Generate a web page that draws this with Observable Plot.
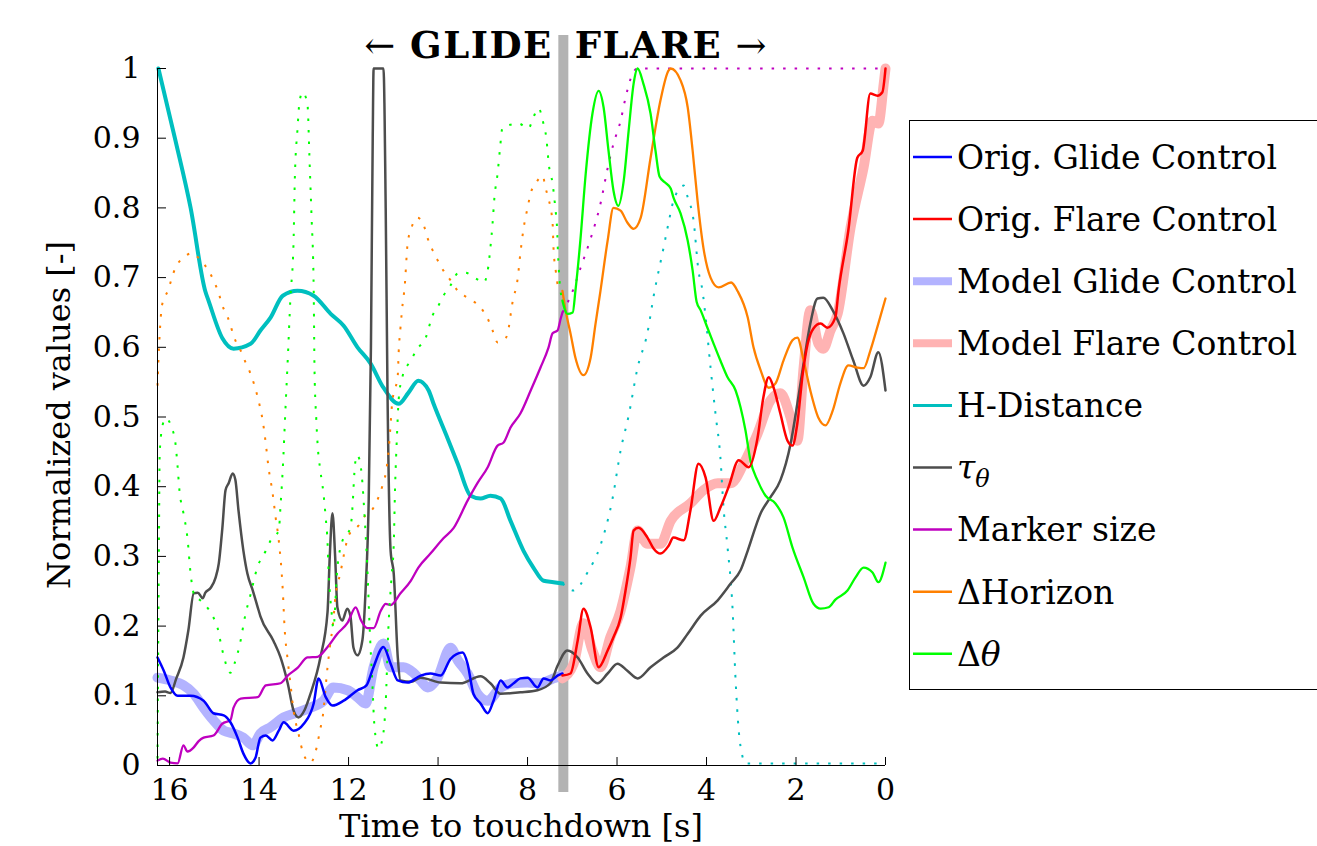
<!DOCTYPE html>
<html><head><meta charset="utf-8">
<script src="https://cdn.jsdelivr.net/npm/d3@7"></script>
<script src="https://cdn.jsdelivr.net/npm/@observablehq/plot@0.6"></script>
<style>body{margin:0;background:#fff} #chart{width:1317px;height:846px;overflow:hidden}</style>
</head><body><div id="chart"></div>
<script>
const boundary = 7.2;
const xDomain = [16.27, 0];
const xTicks = [16, 14, 12, 10, 8, 6, 4, 2, 0];
const yTicks = [0, 0.1, 0.2, 0.3, 0.4, 0.5, 0.6, 0.7, 0.8, 0.9, 1];
const titleLeft = "GLIDE";
const titleRight = "FLARE";
const xLabel = "Time to touchdown [s]";
const yLabel = "Normalized values [-]";

const origGlide = [[16.27,0.155],[16.13,0.136],[15.98,0.112],[15.82,0.1],[15.53,0.1],[15.24,0.093],[15.02,0.075],[14.79,0.072],[14.64,0.062],[14.48,0.04],[14.35,0.017],[14.19,0.003],[14.08,0.011],[13.97,0.04],[13.85,0.043],[13.7,0.036],[13.56,0.05],[13.45,0.062],[13.23,0.05],[13.0,0.06],[12.78,0.089],[12.67,0.125],[12.51,0.098],[12.36,0.086],[12.11,0.093],[11.8,0.108],[11.6,0.115],[11.45,0.14],[11.22,0.17],[11.06,0.146],[10.9,0.122],[10.68,0.119],[10.39,0.129],[10.17,0.132],[9.94,0.129],[9.72,0.153],[9.45,0.162],[9.34,0.146],[9.21,0.103],[9.05,0.089],[8.89,0.075],[8.76,0.093],[8.6,0.122],[8.45,0.112],[8.31,0.118],[8.16,0.125],[8.0,0.126],[7.78,0.112],[7.64,0.125],[7.49,0.122],[7.33,0.129],[7.22,0.132]];

const origFlare = [[7.22,0.129],[7.04,0.132],[6.88,0.179],[6.75,0.225],[6.59,0.198],[6.41,0.141],[6.21,0.165],[6.08,0.184],[5.92,0.212],[5.81,0.251],[5.7,0.298],[5.63,0.337],[5.52,0.341],[5.32,0.327],[5.18,0.311],[5.03,0.304],[4.85,0.315],[4.74,0.327],[4.51,0.323],[4.36,0.366],[4.18,0.433],[4.02,0.413],[3.84,0.351],[3.69,0.37],[3.51,0.399],[3.28,0.438],[3.06,0.428],[2.86,0.47],[2.73,0.528],[2.61,0.557],[2.5,0.542],[2.35,0.505],[2.19,0.466],[2.08,0.459],[1.97,0.491],[1.85,0.562],[1.74,0.605],[1.61,0.627],[1.45,0.634],[1.3,0.628],[1.12,0.643],[1.05,0.681],[0.83,0.768],[0.63,0.872],[0.51,0.882],[0.34,0.964],[0.18,0.961],[0.07,0.966],[0.0,1.0]];

const modelGlide = [[16.27,0.126],[15.98,0.122],[15.69,0.115],[15.46,0.103],[15.24,0.083],[15.02,0.065],[14.79,0.05],[14.57,0.046],[14.35,0.04],[14.14,0.029],[13.97,0.046],[13.74,0.055],[13.45,0.069],[13.14,0.076],[12.85,0.083],[12.56,0.093],[12.34,0.112],[12.02,0.108],[11.8,0.098],[11.62,0.089],[11.44,0.141],[11.22,0.175],[11.06,0.141],[10.77,0.141],[10.55,0.133],[10.39,0.122],[10.23,0.112],[10.01,0.126],[9.72,0.169],[9.56,0.151],[9.34,0.132],[9.12,0.103],[8.89,0.093],[8.6,0.112],[8.31,0.118],[8.0,0.119],[7.71,0.118],[7.42,0.125],[7.22,0.129]];

const modelFlare = [[7.22,0.125],[6.97,0.146],[6.75,0.204],[6.55,0.165],[6.37,0.141],[6.15,0.184],[5.92,0.222],[5.7,0.284],[5.54,0.337],[5.32,0.318],[5.03,0.318],[4.8,0.351],[4.36,0.376],[4.07,0.395],[3.75,0.405],[3.46,0.405],[3.17,0.433],[2.86,0.476],[2.57,0.524],[2.35,0.534],[2.12,0.499],[1.97,0.466],[1.83,0.571],[1.68,0.653],[1.5,0.605],[1.39,0.598],[1.23,0.624],[1.07,0.648],[0.78,0.772],[0.49,0.858],[0.29,0.925],[0.16,0.921],[0.04,0.978],[0.0,1.0]];

const hDistGlide = [[16.25,1.0],[15.87,0.897],[15.53,0.8],[15.2,0.68],[15.13,0.667],[14.82,0.613],[14.57,0.598],[14.19,0.605],[13.97,0.624],[13.74,0.643],[13.47,0.674],[13.14,0.681],[12.78,0.674],[12.4,0.648],[12.11,0.631],[11.8,0.6],[11.51,0.577],[11.22,0.542],[10.88,0.519],[10.66,0.535],[10.44,0.552],[10.21,0.538],[10.1,0.519],[9.79,0.47],[9.56,0.433],[9.27,0.387],[9.05,0.383],[8.83,0.387],[8.6,0.383],[8.38,0.351],[8.09,0.308],[7.87,0.284],[7.64,0.265],[7.42,0.263],[7.22,0.261]];
const hDistFlare = [[7.22,0.261],[6.97,0.251],[6.66,0.277],[6.37,0.316],[6.1,0.383],[5.92,0.452],[5.74,0.502],[5.54,0.571],[5.32,0.621],[5.18,0.674],[4.96,0.743],[4.85,0.778],[4.74,0.81],[4.51,0.832],[4.42,0.815],[4.29,0.782],[4.18,0.71],[4.09,0.681],[4.02,0.643],[3.91,0.571],[3.8,0.505],[3.69,0.442],[3.62,0.37],[3.53,0.313],[3.42,0.227],[3.35,0.122],[3.28,0.05],[3.2,0.014],[3.13,0.003],[0.0,0.003]];

const tauTheta = [[16.27,0.105],[16.1,0.106],[15.98,0.104],[15.85,0.125],[15.69,0.155],[15.58,0.194],[15.46,0.247],[15.37,0.248],[15.26,0.24],[15.2,0.248],[15.08,0.255],[14.97,0.27],[14.9,0.29],[14.82,0.341],[14.75,0.395],[14.68,0.405],[14.59,0.419],[14.53,0.41],[14.46,0.366],[14.35,0.308],[14.26,0.275],[14.14,0.251],[14.03,0.227],[13.97,0.214],[13.68,0.179],[13.52,0.155],[13.36,0.118],[13.23,0.079],[13.12,0.069],[12.98,0.08],[12.85,0.103],[12.63,0.155],[12.47,0.22],[12.42,0.3],[12.36,0.362],[12.3,0.3],[12.25,0.227],[12.14,0.208],[12.03,0.225],[11.96,0.215],[11.89,0.169],[11.8,0.158],[11.69,0.18],[11.62,0.251],[11.55,0.38],[11.5,0.6],[11.46,0.9],[11.44,1.0],[11.22,1.0],[11.17,0.8],[11.13,0.538],[11.06,0.308],[10.99,0.275],[10.9,0.155],[10.84,0.122],[10.6,0.12],[10.39,0.126],[9.94,0.119],[9.5,0.118],[9.05,0.128],[8.83,0.118],[8.6,0.103],[8.16,0.105],[7.78,0.108],[7.49,0.118],[7.33,0.143],[7.11,0.165],[6.88,0.155],[6.66,0.132],[6.44,0.118],[6.21,0.132],[5.99,0.146],[5.77,0.136],[5.54,0.125],[5.25,0.141],[4.96,0.155],[4.65,0.169],[4.42,0.189],[4.13,0.215],[3.75,0.237],[3.46,0.261],[3.24,0.28],[3.08,0.308],[2.79,0.362],[2.57,0.385],[2.35,0.409],[2.12,0.462],[1.97,0.519],[1.83,0.577],[1.68,0.634],[1.52,0.67],[1.39,0.671],[1.18,0.653],[0.94,0.62],[0.72,0.581],[0.49,0.545],[0.34,0.557],[0.16,0.593],[0.0,0.538]];

const markerGlide = [[16.27,0.007],[16.15,0.01],[15.98,0.004],[15.82,0.003],[15.69,0.029],[15.6,0.02],[15.46,0.026],[15.35,0.035],[15.24,0.04],[15.02,0.043],[14.82,0.06],[14.64,0.065],[14.57,0.083],[14.41,0.096],[14.03,0.098],[13.85,0.115],[13.52,0.118],[13.36,0.129],[13.14,0.14],[12.92,0.155],[12.69,0.156],[12.47,0.17],[12.25,0.189],[12.02,0.205],[11.84,0.227],[11.72,0.208],[11.58,0.197],[11.44,0.197],[11.28,0.222],[11.17,0.232],[11.06,0.23],[10.84,0.247],[10.61,0.265],[10.44,0.284],[10.17,0.304],[9.88,0.326],[9.65,0.341],[9.34,0.38],[9.12,0.405],[8.89,0.428],[8.67,0.459],[8.54,0.463],[8.38,0.485],[8.16,0.505],[7.93,0.538],[7.71,0.571],[7.53,0.6],[7.44,0.62],[7.33,0.624],[7.26,0.641],[7.22,0.65]];
const markerFlare = [[7.22,0.65],[6.99,0.681],[6.82,0.713],[6.59,0.756],[6.37,0.806],[6.21,0.857],[6.08,0.892],[5.92,0.925],[5.81,0.958],[5.65,0.993],[5.54,1.0],[0.0,1.0]];

const horizonGlide = [[16.27,0.545],[16.25,0.58],[16.22,0.62],[16.17,0.66],[16.04,0.681],[15.87,0.714],[15.69,0.729],[15.49,0.735],[15.31,0.725],[15.13,0.71],[14.9,0.677],[14.82,0.66],[14.7,0.643],[14.53,0.61],[14.41,0.595],[14.3,0.578],[14.19,0.562],[14.03,0.528],[13.92,0.495],[13.85,0.462],[13.79,0.428],[13.7,0.392],[13.63,0.356],[13.56,0.323],[13.47,0.251],[13.43,0.198],[13.36,0.151],[13.3,0.118],[13.23,0.079],[13.12,0.046],[13.0,0.015],[12.85,0.004],[12.74,0.019],[12.63,0.053],[12.58,0.069],[12.47,0.141],[12.4,0.179],[12.36,0.196],[12.29,0.244],[12.18,0.277],[12.07,0.313],[12.0,0.33],[11.78,0.344],[11.62,0.359],[11.44,0.37],[11.33,0.385],[11.24,0.402],[11.17,0.419],[11.1,0.455],[11.06,0.49],[11.02,0.524],[10.95,0.542],[10.9,0.56],[10.88,0.593],[10.84,0.628],[10.79,0.663],[10.75,0.684],[10.68,0.749],[10.61,0.768],[10.46,0.786],[10.32,0.775],[10.23,0.756],[10.12,0.739],[10.01,0.725],[9.88,0.71],[9.72,0.696],[9.56,0.681],[9.34,0.671],[9.05,0.657],[8.89,0.641],[8.78,0.624],[8.67,0.607],[8.49,0.613],[8.42,0.628],[8.38,0.646],[8.34,0.663],[8.22,0.699],[8.16,0.735],[8.09,0.77],[8.0,0.8],[7.93,0.821],[7.82,0.835],[7.66,0.846],[7.6,0.829],[7.53,0.813],[7.44,0.778],[7.42,0.743],[7.37,0.71],[7.31,0.686],[7.22,0.681]];
const horizonFlare = [[7.22,0.681],[7.15,0.653],[7.04,0.62],[6.93,0.585],[6.75,0.56],[6.59,0.585],[6.48,0.634],[6.37,0.681],[6.21,0.753],[6.08,0.8],[5.92,0.796],[5.77,0.779],[5.63,0.77],[5.47,0.786],[5.25,0.872],[5.03,0.954],[4.85,0.997],[4.8,1.0],[4.58,0.983],[4.42,0.944],[4.31,0.882],[4.2,0.81],[4.07,0.743],[3.91,0.7],[3.73,0.686],[3.45,0.693],[3.3,0.68],[3.08,0.643],[2.95,0.6],[2.79,0.567],[2.61,0.542],[2.46,0.548],[2.28,0.581],[2.08,0.61],[1.97,0.614],[1.83,0.581],[1.68,0.538],[1.5,0.499],[1.34,0.488],[1.18,0.509],[1.01,0.548],[0.83,0.574],[0.63,0.571],[0.49,0.57],[0.34,0.595],[0.16,0.634],[0.0,0.67]];

const thetaGlide = [[16.27,0.01],[16.24,0.3],[16.22,0.45],[16.15,0.49],[16.09,0.498],[15.93,0.481],[15.87,0.463],[15.82,0.428],[15.78,0.395],[15.69,0.362],[15.6,0.326],[15.53,0.275],[15.42,0.24],[15.31,0.237],[15.2,0.23],[15.04,0.215],[14.93,0.198],[14.82,0.165],[14.64,0.133],[14.55,0.146],[14.41,0.18],[14.32,0.212],[14.18,0.248],[14.05,0.282],[13.85,0.308],[13.74,0.323],[13.56,0.337],[13.52,0.373],[13.47,0.426],[13.41,0.512],[13.36,0.581],[13.3,0.67],[13.23,0.75],[13.2,0.844],[13.14,0.914],[13.1,0.95],[13.03,0.966],[12.92,0.95],[12.87,0.864],[12.83,0.792],[12.78,0.686],[12.76,0.564],[12.72,0.495],[12.69,0.459],[12.63,0.423],[12.56,0.39],[12.51,0.355],[12.47,0.32],[12.45,0.284],[12.42,0.251],[12.38,0.22],[12.34,0.197],[12.25,0.284],[12.11,0.327],[11.96,0.34],[11.91,0.373],[11.87,0.42],[11.82,0.445],[11.76,0.44],[11.69,0.405],[11.64,0.355],[11.58,0.283],[11.53,0.2],[11.47,0.12],[11.42,0.055],[11.33,0.024],[11.24,0.039],[11.17,0.09],[11.11,0.197],[11.04,0.27],[10.99,0.318],[10.96,0.4],[10.92,0.47],[10.88,0.525],[10.8,0.557],[10.61,0.581],[10.46,0.598],[10.28,0.613],[10.12,0.646],[9.99,0.66],[9.88,0.674],[9.72,0.689],[9.56,0.706],[9.39,0.707],[9.16,0.699],[8.98,0.693],[8.89,0.71],[8.83,0.743],[8.78,0.779],[8.74,0.815],[8.67,0.849],[8.62,0.882],[8.56,0.915],[8.45,0.918],[8.2,0.921],[7.98,0.914],[7.87,0.93],[7.75,0.943],[7.66,0.925],[7.58,0.9],[7.52,0.86],[7.44,0.835],[7.38,0.8],[7.34,0.77],[7.32,0.736],[7.29,0.7],[7.22,0.667]];
const thetaFlare = [[7.22,0.667],[7.11,0.648],[6.99,0.65],[6.93,0.681],[6.82,0.753],[6.7,0.849],[6.55,0.935],[6.41,0.968],[6.3,0.944],[6.19,0.882],[6.08,0.825],[5.97,0.803],[5.85,0.839],[5.74,0.911],[5.63,0.978],[5.54,1.0],[5.41,0.978],[5.25,0.935],[5.14,0.882],[5.05,0.845],[4.92,0.836],[4.8,0.828],[4.74,0.815],[4.58,0.792],[4.42,0.753],[4.31,0.71],[4.22,0.665],[4.13,0.653],[3.98,0.628],[3.84,0.605],[3.69,0.581],[3.53,0.557],[3.35,0.538],[3.24,0.514],[3.13,0.481],[3.02,0.438],[2.86,0.409],[2.68,0.387],[2.46,0.376],[2.28,0.356],[2.08,0.313],[1.83,0.27],[1.61,0.232],[1.45,0.225],[1.27,0.227],[1.12,0.238],[0.85,0.251],[0.67,0.27],[0.49,0.284],[0.29,0.277],[0.16,0.263],[0.0,0.291]];

const colors = {blue:"#0000ff", red:"#ff0000", lav:"#b3b3ff", pink:"#ffb3b3", cyan:"#00bfbf", gray:"#4d4d4d", purple:"#bf00bf", orange:"#ff8000", green:"#00ff00"};
const dots = "2.5,9";
const F = "DejaVu Serif";

function ln(data, stroke, strokeWidth, dash) {
  return Plot.line(data, {x: d => d[0], y: d => d[1], stroke, strokeWidth, curve: "monotone-x",
    strokeDasharray: dash || null, strokeLinecap: dash ? "butt" : "round", strokeLinejoin: "round"});
}

const plot = Plot.plot({
  width: 1317, height: 846,
  marginLeft: 157, marginRight: 432, marginTop: 68, marginBottom: 81,
  style: {fontFamily: F, fontSize: "30px", color: "#000", background: "#fff"},
  x: {domain: xDomain},
  y: {domain: [0, 1]},
  marks: [
    Plot.ruleX([boundary], {stroke: "#b3b3b3", strokeWidth: 10, insetTop: -33, insetBottom: -27}),
    ln(modelGlide, colors.lav, 10),
    ln(modelFlare, colors.pink, 10),
    ln(hDistGlide, colors.cyan, 4),
    ln(hDistFlare, colors.cyan, 2, dots),
    ln(tauTheta, colors.gray, 2.5),
    ln(markerGlide, colors.purple, 2.3),
    ln(markerFlare, colors.purple, 2, dots),
    ln(horizonGlide, colors.orange, 2, dots),
    ln(horizonFlare, colors.orange, 2.3),
    ln(thetaGlide, colors.green, 2, dots),
    ln(thetaFlare, colors.green, 2.3),
    ln(origGlide, colors.blue, 2.5),
    ln(origFlare, colors.red, 2.5),
    Plot.ruleX([xDomain[0]], {stroke: "#000", strokeWidth: 1}),
    Plot.ruleY([0], {stroke: "#000", strokeWidth: 1}),
    Plot.axisX({ticks: xTicks, tickSize: -8, tickPadding: 21, label: null, tickFormat: d => String(d), fontSize: 30}),
    Plot.axisY({ticks: yTicks, tickSize: -9, tickPadding: 26, label: null, tickFormat: d => String(d), fontSize: 30})
  ]
});
document.getElementById("chart").appendChild(plot);

const svg = d3.select(plot);
const bx = plot.scale("x").apply(boundary);
const t = svg.append("g").attr("font-family", F).attr("font-size", 37).attr("fill", "#000");
const tl = t.append("text").attr("x", bx - 10).attr("y", 58).attr("text-anchor", "end").attr("letter-spacing", 1.5);
tl.append("tspan").attr("font-weight", "normal").text("\u2190 ");
tl.append("tspan").attr("font-weight", "bold").text(titleLeft);
const tr = t.append("text").attr("x", bx + 12).attr("y", 58).attr("text-anchor", "start").attr("letter-spacing", 1.5);
tr.append("tspan").attr("font-weight", "bold").text(titleRight);
tr.append("tspan").attr("font-weight", "normal").text(" \u2192");

svg.append("text").attr("font-family", F).attr("font-size", 32).attr("text-anchor", "middle")
  .attr("x", (157 + 885) / 2).attr("y", 837).text(xLabel);
svg.append("text").attr("font-family", F).attr("font-size", 32).attr("text-anchor", "middle")
  .attr("transform", "translate(70,415) rotate(-90)").text(yLabel);

const legendItems = [
  {label: "Orig. Glide Control", color: colors.blue, w: 2.5},
  {label: "Orig. Flare Control", color: colors.red, w: 2.5},
  {label: "Model Glide Control", color: colors.lav, w: 8},
  {label: "Model Flare Control", color: colors.pink, w: 8},
  {label: "H-Distance", color: colors.cyan, w: 3},
  {label: "tau", color: colors.gray, w: 2.5},
  {label: "Marker size", color: colors.purple, w: 2.5},
  {label: "\u0394Horizon", color: colors.orange, w: 2.5},
  {label: "delta", color: colors.green, w: 2.5}
];
const lg = svg.append("g").attr("font-family", F).attr("font-size", 33).attr("text-anchor", "start");
lg.append("rect").attr("x", 909.5).attr("y", 120.5).attr("width", 440).attr("height", 569)
  .attr("fill", "#fff").attr("stroke", "#000").attr("stroke-width", 1);
legendItems.forEach((it, i) => {
  const y = 157 + i * 62.1;
  lg.append("line").attr("x1", 913).attr("x2", 952).attr("y1", y).attr("y2", y)
    .attr("stroke", it.color).attr("stroke-width", it.w);
  const tx = lg.append("text").attr("x", 957).attr("y", y).attr("dy", "0.36em").attr("text-anchor", "start");
  if (it.label === "tau") {
    tx.append("tspan").attr("font-style", "italic").text("\u03C4");
    tx.append("tspan").attr("font-style", "italic").attr("font-size", 24).attr("dy", "0.3em").text("\u03B8");
  } else if (it.label === "delta") {
    tx.append("tspan").text("\u0394");
    tx.append("tspan").attr("font-style", "italic").text("\u03B8");
  } else {
    tx.text(it.label);
  }
});
</script>
</body></html>
